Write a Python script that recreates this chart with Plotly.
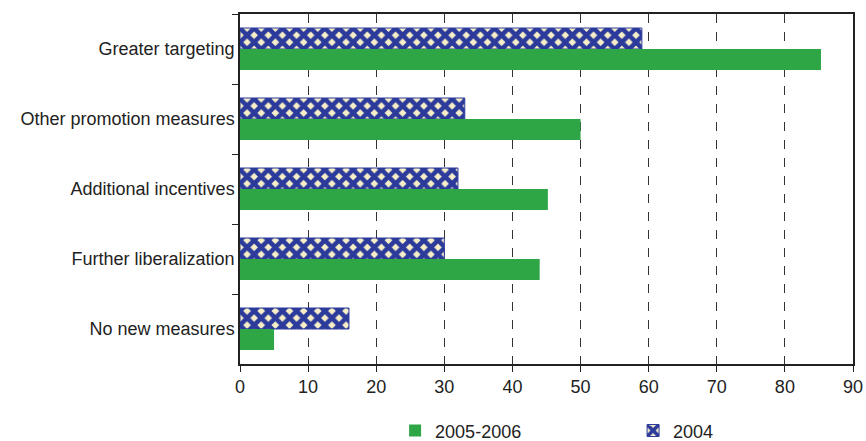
import plotly.graph_objects as go

categories = ["Greater targeting", "Other promotion measures", "Additional incentives",
              "Further liberalization", "No new measures"]
values_2004 = [59, 33, 32, 30, 16]
values_2005_2006 = [85.3, 50, 45.2, 44, 5]
x_ticks = [0, 10, 20, 30, 40, 50, 60, 70, 80, 90]

GREEN = "#2ea646"
BLUE = "#2b3a9b"
CREAM = "#f7efc8"

fig = go.Figure()
fig.add_trace(go.Bar(
    y=categories, x=values_2004, orientation="h", name="2004",
    marker=dict(color=CREAM, line=dict(color=BLUE, width=1),
                pattern=dict(shape="x", fgcolor=BLUE, bgcolor=CREAM, size=10,
                             solidity=0.7, fillmode="replace")),
))
fig.add_trace(go.Bar(
    y=categories, x=values_2005_2006, orientation="h", name="2005-2006",
    marker=dict(color=GREEN, line=dict(width=0)),
))

font = dict(family="Liberation Sans, Arial, sans-serif", size=18, color="#222")
fig.update_layout(
    width=866, height=441,
    margin=dict(l=240, r=13, t=14, b=77, autoexpand=False),
    paper_bgcolor="white", plot_bgcolor="white",
    barmode="group", bargap=0.4, bargroupgap=0,
    font=font,
    showlegend=True,
    legend=dict(orientation="h", x=0.253, xanchor="left", y=-0.138, yanchor="top",
                traceorder="reversed", font=font, itemwidth=30, entrywidth=193,
                entrywidthmode="pixels"),
)
fig.update_xaxes(
    range=[0, 90], tickvals=x_ticks, ticks="outside", ticklen=6, tickcolor="#222",
    showline=True, linecolor="#222", linewidth=1.5, mirror=True,
    showgrid=True, gridcolor="#333", griddash="dash", gridwidth=1,
    zeroline=False, tickfont=font, automargin=False,
)
fig.update_yaxes(
    autorange="reversed", ticks="outside", ticklen=6, tickcolor="#222",
    tickson="boundaries", showline=True, linecolor="#222", linewidth=1.5, mirror=True,
    showgrid=False, tickfont=font, ticklabelstandoff=0, automargin=False,
)
fig.write_html(
    "out.html",
    config={"displayModeBar": False},
    post_script="document.body.style.margin='0';document.body.style.overflow='hidden';",
)
